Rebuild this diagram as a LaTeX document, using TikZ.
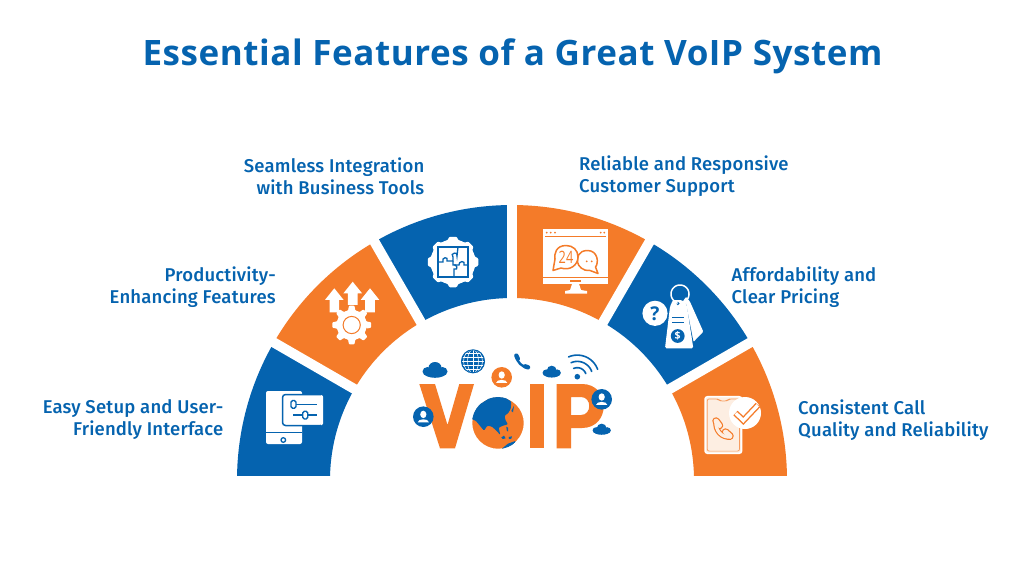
\documentclass[tikz,border=0pt]{standalone}
\usepackage{fontspec}
\setmainfont{Open Sans}
\newfontfamily\titlefont[LetterSpace=1.6]{Open Sans Bold}
\newfontfamily\labelfont[LetterSpace=1.0]{Fira Sans Medium}
\definecolor{vblue}{RGB}{5,99,175}
\definecolor{vorange}{RGB}{244,123,41}
\definecolor{vcream}{RGB}{253,238,226}
\tikzset{
  titlestyle/.style={text=vblue,inner sep=0pt,font=\titlefont\fontsize{35}{40}\selectfont},
  leftlabel/.style={text=vblue,inner sep=0pt,anchor=east,align=right,font=\labelfont\fontsize{18.5}{22}\selectfont},
  rightlabel/.style={text=vblue,inner sep=0pt,anchor=west,align=left,font=\labelfont\fontsize{18.5}{22}\selectfont},
  gapline/.style={white,line width=10pt},
}
\newcommand{\ringpart}[3]{\fill[#3] plot[domain=#1:#2,samples=50] ({512+275*cos(\x)},{480-275*sin(\x)}) -- plot[domain=#2:#1,samples=50] ({512+182*cos(\x)},{480-182*sin(\x)}) -- cycle;}
\newcommand{\gapat}[1]{\draw[gapline] ({512+170*cos(#1)},{480-170*sin(#1)}) -- ({512+295*cos(#1)},{480-295*sin(#1)});}
\newcommand{\cog}[6]{\fill[#6,rounded corners=0.8pt] ({#1+#4},{#2}) \foreach \i in {1,...,#5}{
  -- ({#1+#4*cos(\i*360/#5-180/#5*0.62)},{#2+#4*sin(\i*360/#5-180/#5*0.62)})
  -- ({#1+#3*cos(\i*360/#5-180/#5*0.36)},{#2+#3*sin(\i*360/#5-180/#5*0.36)})
  -- ({#1+#3*cos(\i*360/#5+180/#5*0.36)},{#2+#3*sin(\i*360/#5+180/#5*0.36)})
  -- ({#1+#4*cos(\i*360/#5+180/#5*0.62)},{#2+#4*sin(\i*360/#5+180/#5*0.62)})
} -- cycle;}
\newcommand{\cloudy}[4]{\begin{scope}[shift={(#1,#2)},xscale=#3,yscale=#4]
  \fill[vblue] (-7.5,1.5) ellipse [x radius=5pt,y radius=4.5pt];
  \fill[vblue] (7.5,1.5) ellipse [x radius=5pt,y radius=4.5pt];
  \fill[vblue] (0,-2.2) ellipse [x radius=6.5pt,y radius=5.8pt];
  \fill[vblue] (0,3) ellipse [x radius=11pt,y radius=4.8pt];
\end{scope}}
\newcommand{\badge}[3]{\begin{scope}[shift={(#1,#2)}]
  \fill[#3] (0,0) circle [radius=10.3pt];
  \fill[white] (0,-2.3) ellipse [x radius=3.1pt,y radius=3.7pt];
  \fill[white] (-5.6,5.6) .. controls (-5.4,1.6) and (5.4,1.6) .. (5.6,5.6) -- cycle;
\end{scope}}
\begin{document}
\begin{tikzpicture}[x=1pt,y=-1pt]
\useasboundingbox (0,0) rectangle (1024,576);
\fill[white] (0,0) rectangle (1024,576);
\node[titlestyle] (title) at (512.5,56) {Essential Features of a Great VoIP System};
\begin{scope}
  \clip (0,0) rectangle (1024,475);
  \ringpart{150}{180}{vblue}
  \ringpart{120}{150}{vorange}
  \ringpart{90}{120}{vblue}
  \ringpart{60}{90}{vorange}
  \ringpart{30}{60}{vblue}
  \ringpart{0}{30}{vorange}
  \gapat{30}\gapat{60}\gapat{90}\gapat{120}\gapat{150}
\end{scope}
\node[leftlabel] (l1) at (223.5,420) {Easy Setup and User-\\Friendly Interface};
\node[leftlabel] (l2) at (276,287) {Productivity-\\Enhancing Features};
\node[leftlabel] (l3) at (424.5,176) {Seamless Integration\\with Business Tools};
\node[rightlabel] (r1) at (579,176) {Reliable and Responsive\\Customer Support};
\node[rightlabel] (r2) at (731.5,287) {Affordability and\\Clear Pricing};
\node[rightlabel] (r3) at (798,420) {Consistent Call\\Quality and Reliability};
% icon 1
\fill[white,rounded corners=2pt] (266,391) rectangle (302,444);
\fill[vblue] (266,431.6) rectangle (302,433.2);
\draw[vblue,line width=1.3pt] (283.3,440) circle [radius=2.3pt];
\fill[white,draw=vblue,line width=1.5pt,rounded corners=3pt] (282.5,394.5) rectangle (323.5,425.5);
\fill[white,rounded corners=2pt] (320,395.2) rectangle (323.2,425);
\draw[vblue,line width=1.5pt] (296,404.3) -- (317,404.3);
\draw[vblue,line width=1.5pt] (293,415) -- (317,415);
\draw[vblue,line width=1.4pt,fill=white,rounded corners=1.6pt] (291,400.5) rectangle (296,408.2);
\draw[vblue,line width=1.4pt,fill=white,rounded corners=1.6pt] (302.7,411.2) rectangle (307.7,419);
% icon 2
\foreach \ax/\ay in {352.7/281.7,334.3/288.3,370/288.3}{
  \fill[white] (\ax,\ay) -- (\ax+9.3,\ay+11.6) -- (\ax+4.8,\ay+11.6) -- (\ax+4.8,\ay+24) -- (\ax-4.8,\ay+24) -- (\ax-4.8,\ay+11.6) -- (\ax-9.3,\ay+11.6) -- cycle;
}
\fill[vorange] (345,305) rectangle (361,306.2);
\cog{351.7}{325}{19.5}{15}{8}{white}
\fill[white] (351.7,325) circle [radius=15pt];
\draw[vorange,line width=1pt] (351.7,325) circle [radius=8.6pt];
% icon 3
\cog{453}{262}{25.5}{22.5}{8}{white}
\fill[white] (453,262) circle [radius=22.5pt];
\draw[vblue,line width=1.4pt] (438,247) rectangle (468,277);
\begin{scope}[vblue,line width=1.3pt]
  \draw (438,262) -- (443,262) .. controls (441,257) and (449,256) .. (447,261) -- (453,261) -- (453,257) .. controls (449,253) and (459,251) .. (457,256) -- (458,247);
  \draw (453,261) -- (453,265) .. controls (457,263) and (459,271) .. (454,269) -- (454,277);
  \draw (454,265) -- (459,265) .. controls (458,261) and (466,260) .. (464,265) -- (468,265);
\end{scope}
% icon 4
\fill[white] (543.3,229) rectangle (607.7,283.7);
\fill[vorange] (543.3,276.8) rectangle (607.7,278);
\fill[vorange] (545,236) rectangle (606,236.8);
\fill[vorange] (570,280) rectangle (581,281.6);
\fill[white] (572,284) -- (579,284) -- (581,290) -- (587,291) -- (587,293.7) -- (565,293.7) -- (565,291) -- (570,290) -- cycle;
\foreach \dx in {546.7,550.7,555,600.7,604.3}{\fill[vorange] (\dx,232.6) circle [radius=1pt];}
\begin{scope}[vorange,line width=1.5pt,line join=round]
  \draw[fill=white] (587.5,250.5) .. controls (578,250.5) and (577,258) .. (577.5,262) .. controls (578,266) and (583,271.5) .. (590,270.5) -- (598,273.5) -- (595.5,267) .. controls (599,263) and (598,250.5) .. (587.5,250.5) -- cycle;
  \draw[fill=white] (566,245.5) .. controls (556,245.5) and (554,254) .. (555,259) -- (553,270.5) -- (561,268) .. controls (570,271) and (578,265) .. (578,257) .. controls (578,250) and (573,245.5) .. (566,245.5) -- cycle;
\end{scope}
\fill[vorange] (586.7,261.3) circle [radius=1pt] (591.7,261.3) circle [radius=1pt];
\node[text=vorange,inner sep=0pt,xscale=0.75,font=\fontsize{17}{18}\selectfont] (chatnum) at (566,257.5) {24};
% icon 5
\fill[white,rounded corners=1pt] (686,296.7) -- (690,301.7) -- (703.3,331.7) -- (693.3,342) -- (680,306) -- cycle;
\draw[vblue,line width=1pt] (685.5,304) -- (693.8,346);
\fill[white,rounded corners=1.5pt] (673,300) -- (682,300) -- (686.7,305) -- (693.3,348.3) -- (665,348.3) -- (670,306.5) -- cycle;
\fill[vblue] (677.8,303.5) circle [radius=1.8pt];
\draw[white,line width=1.5pt] plot[domain=-35:235,samples=40] ({680+9*cos(\x)},{294-9*sin(\x)});
\draw[white,line width=1.5pt] (674.8,301.4) -- (677.5,303.5);
\fill[white] (655,313.3) circle [radius=12.6pt];
\node[text=vblue,inner sep=0pt,font=\fontspec{Open Sans Bold}\fontsize{19}{20}\selectfont] (qmark) at (655,313.3) {?};
\fill[vblue] (672,316.6) rectangle (684.3,318);
\fill[vblue] (672,322) rectangle (684.3,323.4);
\fill[vblue] (677.7,336) circle [radius=6.9pt];
\node[text=white,inner sep=0pt,font=\fontspec{Open Sans Bold}\fontsize{10.5}{11}\selectfont] (dollar) at (677.7,336) {\$};
% icon 6
\fill[vcream,rounded corners=2.5pt] (705,396.7) rectangle (741.7,453.3);
\draw[white,line width=1.5pt,rounded corners=2.5pt] (705,396.7) rectangle (741.7,453.3);
\draw[vorange!75!white,line width=0.7pt,rounded corners=2pt] (707.2,398.9) -- (718,398.9) -- (720,401) -- (727,401) -- (729,398.9) -- (739.5,398.9) -- (739.5,451.1) -- (707.2,451.1) -- cycle;
\draw[vorange,line width=5.5pt] (716,421) .. controls (715,431) and (722,438) .. (731,437);
\draw[vorange,line width=7.5pt,line cap=round] (716,421) -- (719.5,425.5) (725.5,432) -- (730,436);
\draw[vcream,line width=3.2pt] (716,421) .. controls (715,431) and (722,438) .. (731,437);
\draw[vcream,line width=5pt,line cap=round] (716,421) -- (719.5,425.5) (725.5,432) -- (730,436);
\fill[white] (745,413) circle [radius=16pt];
\draw[vorange,line width=6.2pt,line join=miter] (735.5,413) -- (743.3,420.5) -- (758,405);
\draw[white,line width=3.4pt,shorten >=0.4pt,shorten <=0.4pt] (735.5,413) -- (743.3,420.5) -- (758,405);
% VoIP
\fill[vorange] (419.3,384) -- (435,384) -- (447.5,425) -- (459.3,384) -- (474,384) -- (455,448.3) -- (440,448.3) -- cycle;
\fill[vorange] (530,384) rectangle (544.3,448.3);
\fill[vorange,even odd rule] (556.7,384) -- (582,384) .. controls (611,384) and (611,428) .. (582,428) -- (571,428) -- (571,448.3) -- (556.7,448.3) -- cycle
  (571,397) -- (571,415) -- (581,415) .. controls (592,415) and (592,397) .. (581,397) -- cycle;
% globe
\fill[vorange,draw=white,line width=1.5pt] (498,423) circle [radius=26.5pt];
\begin{scope}
  \clip (498,423) circle [radius=26pt];
  \begin{scope}[shift={(468,385)},x=0.3333pt,y=-0.3333pt]
  \fill[vblue,rounded corners=1pt] (40,55) -- (70,36) -- (105,34) -- (130,50) -- (128,72) -- (120,85) -- (110,92) -- (112,105) -- (120,118) -- (105,122) -- (92,128) -- (97,150) -- (85,137) -- (72,125) -- (58,122) -- (48,137) -- (38,125) -- (24,108) -- (8,100) -- (12,78) -- (28,62) -- cycle;
  \fill[vblue] (130,78) -- (138,62) -- (135,82) -- cycle;
  \fill[vblue] (115,125) -- (120,128) -- (120,140) -- (116,136) -- cycle;
  \fill[vblue] (100,157) -- (108,152) -- (113,160) -- (104,162) -- cycle;
  \fill[vblue] (122,156) -- (132,154) -- (130,161) -- (123,162) -- cycle;
  \fill[vblue] (98,194) -- (120,176) -- (142,168) -- (135,195) -- cycle;
  \end{scope}
\end{scope}
% satellites
\cloudy{435}{370}{1}{1}
\cloudy{551.7}{371.7}{0.73}{0.75}
\cloudy{601.7}{429.3}{0.73}{0.7}
\begin{scope}[shift={(473,361.3)}]
  \fill[vblue] (0,0) circle [radius=11.8pt];
  \draw[white,line width=0.55pt] (0,-11.8) -- (0,11.8) (-11.8,0) -- (11.8,0) (-10.9,-4.2) -- (10.9,-4.2) (-10.9,4.2) -- (10.9,4.2) (-8,-8.3) -- (8,-8.3) (-8,8.3) -- (8,8.3);
  \draw[white,line width=0.55pt] (0,0) ellipse [x radius=5.5pt,y radius=11.8pt];
  \draw[white,line width=0.55pt] (0,0) ellipse [x radius=9.5pt,y radius=11.8pt];
  \draw[vblue,line width=1pt] (0,0) circle [radius=11.5pt];
\end{scope}
\badge{501.7}{377.3}{vorange}
\badge{601.7}{399.3}{vblue}
\badge{423.3}{416.7}{vblue}
\draw[vblue,line width=2.4pt,line cap=round] (516.5,356.5) .. controls (517,362) and (522,367) .. (527.5,367.5);
\draw[vblue,line width=4.4pt,line cap=round] (516.3,355.6) -- (517.8,358.8);
\draw[vblue,line width=4.4pt,line cap=round] (525,366.3) -- (528,367.3);
\fill[vblue] (577.3,376.7) circle [radius=2.8pt];
\foreach \wr in {9,15.3,21.6}{
  \draw[vblue,line width=1.6pt,line cap=round] plot[domain=20:114,samples=24] ({577.3+\wr*cos(\x)},{376.7-\wr*sin(\x)});
}
\end{tikzpicture}
\end{document}
